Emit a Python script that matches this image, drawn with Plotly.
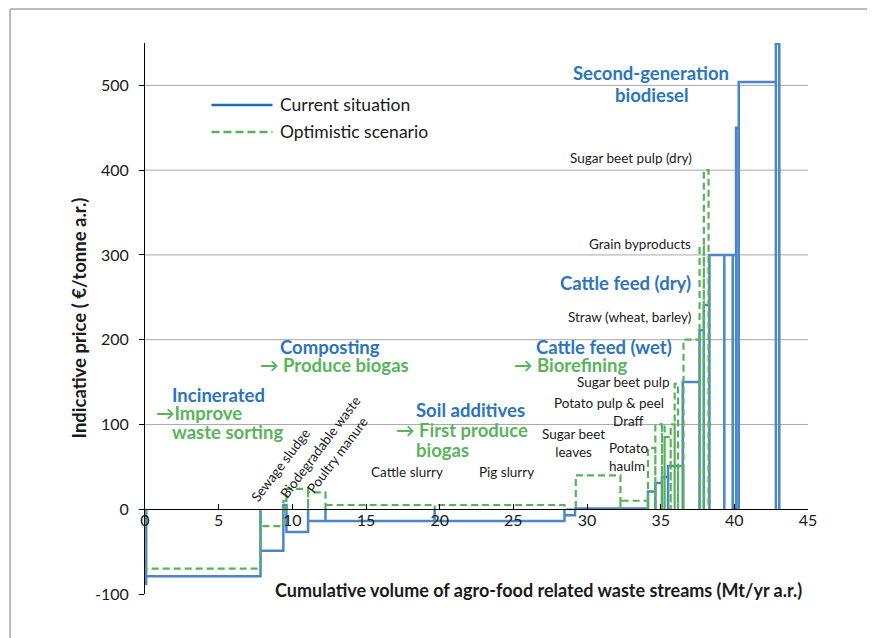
import numpy as np
import plotly.graph_objects as go

# ---------------- data ----------------
# Current situation: block widths (Mt/yr a.r.) and prices (EUR/tonne a.r.), in merit order
current_volume = [0.08, 7.76, 1.55, 0.21, 1.47, 1.18, 7.41, 8.81, 0.72, 4.95,
                  0.50, 0.45, 0.41, 1.00, 1.14, 0.29, 0.38, 1.01, 0.57, 0.23,
                  0.18, 2.52, 0.23]
current_price = [-88, -79, -49, 5, -27, -14, -14, -14, -7, 1,
                 21, 31, 38, 51, 150, 211, 241, 300, 300, 300,
                 450, 504, 549]

# Optimistic scenario
optimistic_volume = [7.84, 1.55, 0.21, 1.47, 1.18, 7.41, 8.81, 0.77, 3.03, 1.87,
                     0.50, 0.45, 0.18, 0.41, 0.27, 0.23, 0.37, 1.09, 0.29, 0.32]
optimistic_price = [-70, -20, 10, 24, 20, 5, 5, 0, 40, 10,
                    72, 100, 100, 85, 100, 148, 51, 200, 310, 400]

x_ticks = [0, 5, 10, 15, 20, 25, 30, 35, 40, 45]
y_ticks = [-100, 0, 100, 200, 300, 400, 500]
y_ticktext = ["-100", "0", "100", "200", "300", "400", "500"]
grid_levels = [100, 200, 300, 400, 500]

BLUE = "#4a86c8"
BLUE_TXT = "#2b74c0"
GREEN = "#57b35a"
GREEN_TXT = "#5ab45c"
FONT = "Lato"


def outline(widths, prices):
    edges = np.concatenate([[0.0], np.cumsum(widths)])
    xs, ys = [], []
    for i, p in enumerate(prices):
        x0, x1 = edges[i], edges[i + 1]
        xs += [x0, x0, x1, x1]
        ys += [0, p, p, 0]
    return xs, ys


fig = go.Figure()
bx, by = outline(current_volume, current_price)
gx, gy = outline(optimistic_volume, optimistic_price)
fig.add_trace(go.Scatter(x=bx, y=by, mode="lines", name="Current situation",
                         line=dict(color=BLUE, width=2.5), showlegend=False))
fig.add_trace(go.Scatter(x=gx, y=gy, mode="lines", name="Optimistic scenario",
                         line=dict(color=GREEN, width=2.2, dash="7px,4px"),
                         showlegend=False))

shapes = []
for g in grid_levels:
    shapes.append(dict(type="line", xref="paper", x0=0, x1=1, yref="y", y0=g, y1=g,
                       line=dict(color="#a8a8a8", width=1), layer="below"))
# frame lines (top and left)
shapes.append(dict(type="line", xref="paper", yref="paper", x0=-0.2035, x1=1.2,
                   y0=1.0617, y1=1.0617, line=dict(color="#a6a6a6", width=1.5)))
shapes.append(dict(type="line", xref="paper", yref="paper", x0=-0.2035, x1=-0.2035,
                   y0=-0.1, y1=1.0617, line=dict(color="#a6a6a6", width=1.5)))
# legend lines
shapes.append(dict(type="line", xref="paper", yref="paper", x0=0.1003, x1=0.1923,
                   y0=0.8875, y1=0.8875, line=dict(color="#1f6cb8", width=2.5)))
shapes.append(dict(type="line", xref="paper", yref="paper", x0=0.1003, x1=0.1923,
                   y0=0.8385, y1=0.8385, line=dict(color=GREEN, width=2.5, dash="8px,4px")))

ann = []


def add(text, x, y, color="#1a1a1a", size=13.5, bold=False, xanchor="center",
        angle=0, ref="data", align="left"):
    t = "<b>" + text + "</b>" if bold else text
    ann.append(dict(text=t, x=x, y=y, xref="x" if ref == "data" else "paper",
                    yref="y" if ref == "data" else "paper", showarrow=False,
                    xanchor=xanchor, yanchor="middle", textangle=angle, align=align,
                    font=dict(family=FONT, size=size, color=color)))


BIG = 18.5

# legend text
add("Current situation", 0.2013, 0.8875, "#1a1a1a", 17.5, False, "left", ref="paper")
add("Optimistic scenario", 0.2013, 0.8385, "#1a1a1a", 17.5, False, "left", ref="paper")

# axis titles
add("Cumulative volume of agro-food related waste streams (Mt/yr a.r.)", 0.594, 0.0073,
    "#1a1a1a", 18, True, "center", ref="paper")
add("Indicative price ( €/tonne a.r.)", -0.1003, 0.501, "#1a1a1a", 18.5, True, "center",
    angle=-90, ref="paper")

# category labels
add("Incinerated", 1.73, 134.5, BLUE_TXT, BIG, True, "left")
add("→Improve", 0.58, 113.2, GREEN_TXT, BIG, True, "left")
add("waste sorting", 1.73, 90.8, GREEN_TXT, BIG, True, "left")
add("Composting", 9.06, 191.1, BLUE_TXT, BIG, True, "left")
add("→ Produce biogas", 7.70, 169.9, GREEN_TXT, BIG, True, "left")
add("Soil additives", 18.29, 116.8, BLUE_TXT, BIG, True, "left")
add("→ First produce", 16.93, 93.2, GREEN_TXT, BIG, True, "left")
add("biogas", 18.29, 69.6, GREEN_TXT, BIG, True, "left")
add("Cattle feed (wet)", 26.42, 191.1, BLUE_TXT, BIG, True, "left")
add("→ Biorefining", 24.93, 169.9, GREEN_TXT, BIG, True, "left")
add("Cattle feed (dry)", 37.22, 266.6, BLUE_TXT, BIG, True, "right")
add("Second-generation", 34.37, 514.3, BLUE_TXT, BIG, True, "center")
add("biodiesel", 34.44, 488.4, BLUE_TXT, BIG, True, "center")

# stream labels
add("Sugar beet pulp (dry)", 37.28, 414.1, xanchor="right")
add("Grain byproducts", 37.22, 312.6, xanchor="right")
add("Straw (wheat, barley)", 37.22, 226.5, xanchor="right")
add("Sugar beet pulp", 35.73, 149.8, xanchor="right")
add("Potato pulp &amp; peel", 35.39, 125.0, xanchor="right")
add("Draff", 34.03, 103.8, xanchor="right")
add("Sugar beet<br>leaves", 29.07, 77.9, xanchor="center", align="center")
add("Potato<br>haulm", 31.38, 61.3, xanchor="left")
add("Cattle slurry", 17.81, 43.6)
add("Pig slurry", 24.53, 43.6)
add("Sewage sludge", 9.2, 52.0, angle=-53)
add("Biodegradable waste", 11.9, 73.0, angle=-53)
add("Poultry manure", 13.05, 64.0, angle=-53)

fig.update_layout(
    width=867, height=630,
    margin=dict(l=136.5, r=67.3, t=35, b=44),
    paper_bgcolor="white", plot_bgcolor="white",
    font=dict(family=FONT, size=16, color="#1a1a1a"),
    shapes=shapes, annotations=ann,
    xaxis=dict(range=[0, 45], tickvals=x_ticks, ticks="inside", ticklen=5,
               tickcolor="black", showline=True, linecolor="black", linewidth=1,
               showgrid=False, zeroline=False, anchor="free", position=100 / 650,
               ticklabelstandoff=-3,
               tickfont=dict(family=FONT, size=16, color="#1a1a1a")),
    yaxis=dict(range=[-100, 550], tickvals=y_ticks, ticktext=y_ticktext,
               ticks="outside", ticklen=5, tickcolor="black", showline=True,
               linecolor="black", linewidth=1, showgrid=False, zeroline=False,
               ticklabelstandoff=7,
               tickfont=dict(family=FONT, size=16, color="#1a1a1a")),
)

fig.write_html("out.html")
